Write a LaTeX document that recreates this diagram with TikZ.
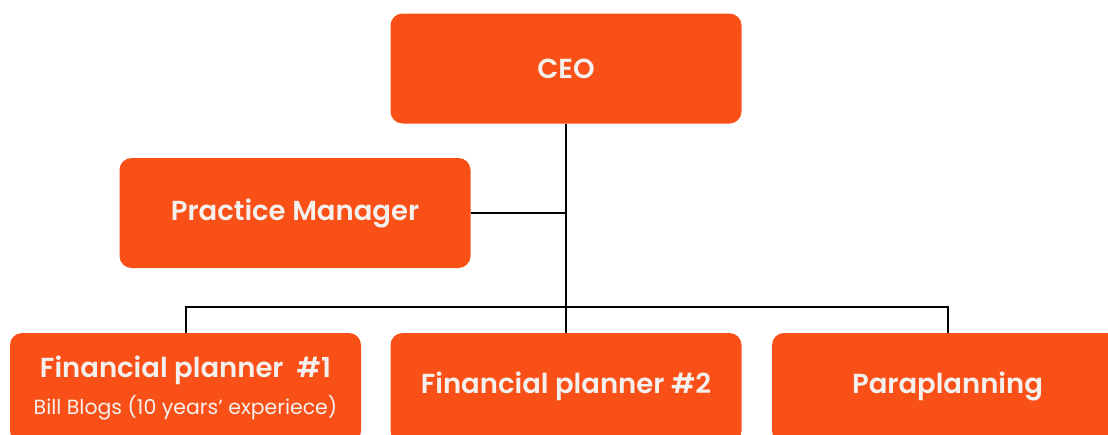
\documentclass[tikz,border=0pt]{standalone}
\usepackage{fontspec}
\setmainfont{Poppins}[BoldFont={Poppins SemiBold}]
\usetikzlibrary{positioning}
\definecolor{morange}{HTML}{F95017}
\definecolor{mwhite}{HTML}{F3F0EE}

\tikzset{
  box/.style={fill=morange, rounded corners=12pt, text=mwhite, minimum width=351pt,
    minimum height=110pt, inner sep=0pt, align=center,
    font=\fontsize{27.5}{32}\selectfont\bfseries},
  title/.style={text=mwhite, font=\fontsize{27.5}{32}\selectfont\bfseries},
  link/.style={line width=2pt, black}
}

\begin{document}
\begin{tikzpicture}[x=1pt, y=-1pt]
  \useasboundingbox (0,0) rectangle (1108,434);
  \clip (0,0) rectangle (1108,434);

  \node [box] (ceo) at (566, 68.5) {CEO};
  \node [box] (pm) at (295, 213) {Practice Manager};

  \node [box] (fp1) at (185.5, 388) {};
  \node [box] (fp2) at (566, 388) {};
  \node [box] (para) at (947.5, 388) {};
  \node [title] (fp1title) at (185.5, 370) {Financial planner \ \#1};
  \node [text=mwhite, font=\fontsize{20.5}{24}\selectfont] (fp1name) at (185.5, 408) {Bill Blogs (10 years’ experiece)};
  \node [title] (fp2title) at (566, 386) {Financial planner \#2};
  \node [title] (paratitle) at (947.5, 386) {Paraplanning};

  % reporting lines
  \coordinate (bus) at (566, 307);
  \draw [link] (ceo) -- (fp2);
  \draw [link] (pm) -- (pm -| ceo);
  \draw [link] (fp1.north) |- (bus) -| (para.north);
\end{tikzpicture}
\end{document}
